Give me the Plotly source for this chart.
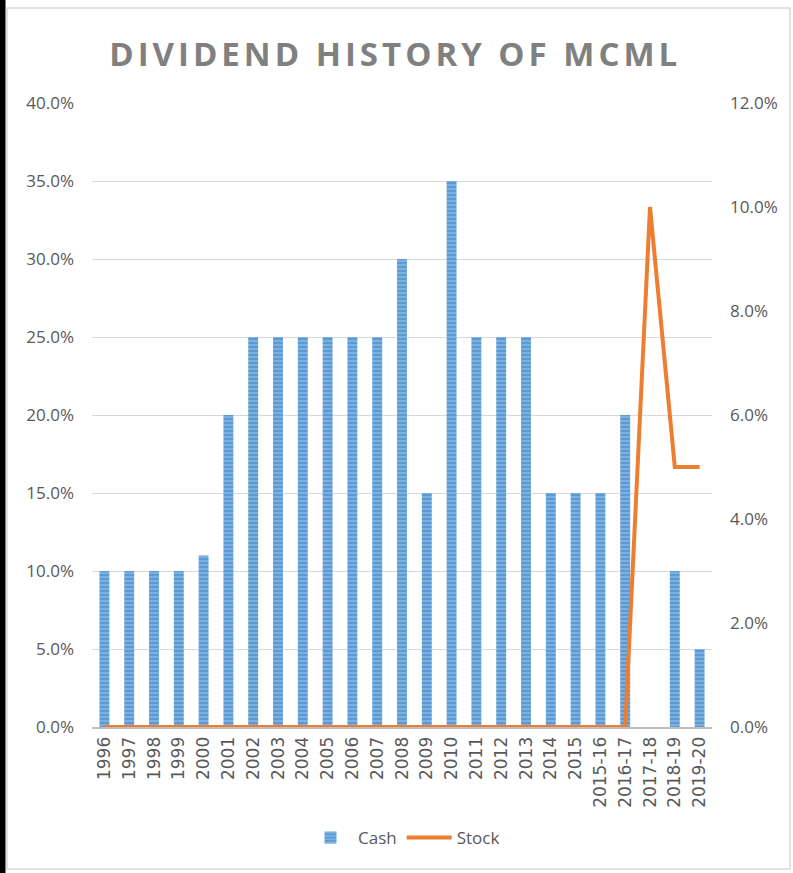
import plotly.graph_objects as go

categories = ["1996", "1997", "1998", "1999", "2000", "2001", "2002", "2003", "2004",
              "2005", "2006", "2007", "2008", "2009", "2010", "2011", "2012", "2013",
              "2014", "2015", "2015-16", "2016-17", "2017-18", "2018-19", "2019-20"]
cash = [0.10, 0.10, 0.10, 0.10, 0.11, 0.20, 0.25, 0.25, 0.25, 0.25, 0.25, 0.25, 0.30,
        0.15, 0.35, 0.25, 0.25, 0.25, 0.15, 0.15, 0.15, 0.20, None, 0.10, 0.05]
stock = [0, 0, 0, 0, 0, 0, 0, 0, 0, 0, 0, 0, 0, 0, 0, 0, 0, 0, 0, 0, 0, 0,
         0.10, 0.05, 0.05]
left_ticks = [0, 0.05, 0.10, 0.15, 0.20, 0.25, 0.30, 0.35, 0.40]
right_ticks = [0, 0.02, 0.04, 0.06, 0.08, 0.10, 0.12]

W, H = 793, 873
ML, MR, MT, MB = 92, 81, 103, 146
PW, PH = W - ML - MR, H - MT - MB

def px_x(p):
    return (p - ML) / PW

def px_y(p):
    return (H - MB - p) / PH

font_family = "Open Sans, Noto Sans, sans-serif"
tick_color = "#595959"

fig = go.Figure()
fig.add_trace(go.Bar(
    x=categories, y=cash, name="Cash",
    marker=dict(color="#5B9BD5", line=dict(width=0),
                pattern=dict(shape="-", fgcolor="#BDD7EE", bgcolor="#5B9BD5",
                             size=4, solidity=0.35)),
    yaxis="y",
))
fig.add_trace(go.Scatter(
    x=categories, y=stock, name="Stock", mode="lines",
    line=dict(color="#ED7D31", width=4), yaxis="y2",
))

fig.update_layout(
    width=W, height=H,
    margin=dict(l=ML, r=MR, t=MT, b=MB, autoexpand=False),
    paper_bgcolor="white", plot_bgcolor="white",
    title=dict(text="<b>DIVIDEND HISTORY OF MCML</b>", x=px_x(401), xanchor="center",
               y=1 - 54 / H, yanchor="middle",
               font=dict(family=font_family, size=33, color="#808080")),
    bargap=0.6,
    showlegend=True,
    legend=dict(orientation="h", x=px_x(404), xanchor="center", y=px_y(838), yanchor="middle",
                font=dict(family=font_family, size=17, color=tick_color),
                itemwidth=45, traceorder="normal"),
    xaxis=dict(type="category", tickangle=-90, showgrid=False,
               showline=True, linecolor="#BFBFBF", linewidth=2,
               ticks="", ticklabelstandoff=1,
               tickfont=dict(family="DejaVu Sans, Open Sans, sans-serif", size=17,
                             color=tick_color)),
    yaxis=dict(range=[0, 0.40], tickvals=left_ticks, tickformat=".1%",
               showgrid=True, gridcolor="#D9D9D9", gridwidth=1, zeroline=False,
               showline=False, ticks="", ticklabelstandoff=17,
               tickfont=dict(family=font_family, size=17, color=tick_color)),
    yaxis2=dict(range=[0, 0.12], tickvals=right_ticks, tickformat=".1%",
                overlaying="y", side="right", showgrid=False, zeroline=False,
                showline=False, ticks="", ticklabelstandoff=17,
                tickfont=dict(family=font_family, size=17, color=tick_color)),
    shapes=[
        dict(type="rect", xref="paper", yref="paper",
             x0=px_x(7), x1=px_x(790), y0=px_y(869), y1=px_y(8),
             line=dict(color="#D9D9D9", width=1.5), fillcolor="rgba(0,0,0,0)", layer="below"),
        dict(type="rect", xref="paper", yref="paper",
             x0=px_x(-2), x1=px_x(5.5), y0=px_y(H + 2), y1=px_y(-2),
             line=dict(width=0), fillcolor="#000000", layer="above"),
    ],
)

post = """
document.body.style.margin='0';
document.querySelectorAll('.gtitle').forEach(function(t){t.style.letterSpacing='4px';});
"""
fig.write_html("out.html", post_script=post, config={"displayModeBar": False})
